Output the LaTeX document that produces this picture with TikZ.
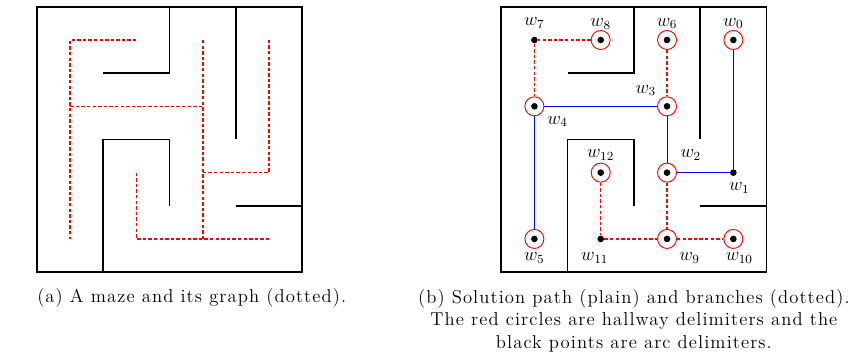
\documentclass[tikz,border=0pt]{standalone}
\usepackage{amsmath}
\usepackage{fontspec}
\usepackage{tikz}
\usetikzlibrary{positioning, calc}
\newfontfamily\captfont{Latin Modern Roman}[LetterSpace=5.8]

\begin{document}
\begin{tikzpicture}[x=1.5cm, y=1.5cm,
  wall/.style={line width=1.1pt},
  branch/.style={red, line width=1pt, dash pattern=on 2.2pt off 1.4pt},
  solpath/.style={blue, line width=0.6pt},
  hall/.style={circle, draw=red, line width=0.6pt, minimum size=0.43cm, inner sep=0pt,
    path picture={\fill[black] (path picture bounding box.center) circle (0.075cm);}},
  arcpt/.style={circle, fill=black, minimum size=0.15cm, inner sep=0pt},
  lbl/.style={font=\fontsize{12}{14}\selectfont, inner sep=0pt},
  capt/.style={font=\captfont\fontsize{12}{14.5}\selectfont, align=center, inner sep=0pt}]

\useasboundingbox (-0.558,-1.222) rectangle (12.44,4.103);

% Maze walls, (a) and (b)
\foreach \ox in {0,7} {
  \draw[wall] (\ox,0) rectangle (\ox+4,4);
  \draw[wall] (\ox+1,3) -- (\ox+2,3) -- (\ox+2,4);
  \draw[wall] (\ox+3,4) -- (\ox+3,2);
  \draw[wall] (\ox+1,0) -- (\ox+1,2) -- (\ox+2,2) -- (\ox+2,1);
  \draw[wall] (\ox+3,1) -- (\ox+4,1);
}

% (a) graph of the maze
\draw[branch] (1.5,3.5) -- (0.5,3.5) -- (0.5,0.5);
\draw[branch] (0.5,2.5) -- (2.5,2.5);
\draw[branch] (2.5,3.5) -- (2.5,0.5);
\draw[branch] (1.5,1.5) -- (1.5,0.5) -- (3.5,0.5);
\draw[branch] (2.5,1.5) -- (3.5,1.5) -- (3.5,3.5);

% (b) delimiters
\node[hall] (w0) at (10.5,3.5) {};
\node[arcpt] (w1) at (10.5,1.5) {};
\node[hall] (w2) at (9.5,1.5) {};
\node[hall] (w3) at (9.5,2.5) {};
\node[hall] (w4) at (7.5,2.5) {};
\node[hall] (w5) at (7.5,0.5) {};
\node[hall] (w6) at (9.5,3.5) {};
\node[arcpt] (w7) at (7.5,3.5) {};
\node[hall] (w8) at (8.5,3.5) {};
\node[hall] (w9) at (9.5,0.5) {};
\node[hall] (w10) at (10.5,0.5) {};
\node[arcpt] (w11) at (8.5,0.5) {};
\node[hall] (w12) at (8.5,1.5) {};

% solution path
\draw[solpath] (w0) -- (w1) -- (w2) -- (w3) -- (w4) -- (w5);

% branches
\draw[branch] (w8) -- (w7) -- (w4);
\draw[branch] (w6) -- (w3);
\draw[branch] (w2) -- (w9);
\draw[branch] (w12) -- (w11) -- (w9) -- (w10);

% labels
\foreach \i/\dx/\dy in {0/0/0.25, 1/0.09/-0.235, 2/0.36/0.27, 3/-0.32/0.24,
    4/0.35/-0.23, 5/0/-0.29, 6/0/0.25, 7/0/0.26, 8/0/0.24, 9/0.34/-0.29,
    10/0.09/-0.29, 11/-0.09/-0.29, 12/0/0.27}
  \node[lbl] (l\i) at ($(w\i)+(\dx,\dy)$) {$w_{\i}$};

% captions
\node[capt, anchor=west] (capa) at (0,-0.387) {(a) A maze and its graph (dotted).};
\node[capt] (capb) at (9,-0.73) {(b) Solution path (plain) and branches (dotted).\\
  The red circles are hallway delimiters and the\\
  black points are arc delimiters.};
\end{tikzpicture}
\end{document}
